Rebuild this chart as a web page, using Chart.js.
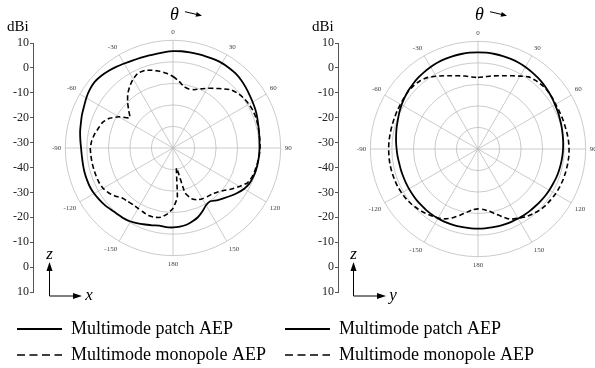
<!DOCTYPE html>
<html>
<head>
<meta charset="utf-8">
<script src="https://cdn.jsdelivr.net/npm/chart.js@4.4.0/dist/chart.umd.min.js"></script>
<style>
  html, body { margin: 0; padding: 0; background: #fff; overflow: hidden; }
  #wrap { position: relative; width: 595px; height: 368px; }
  canvas { position: absolute; }
</style>
</head>
<body>
<div id="wrap">
  <canvas id="axisLeft" width="297" height="374" style="left:0;top:0"></canvas>
  <canvas id="axisRight" width="327" height="374" style="left:268px;top:0"></canvas>
  <canvas id="polarLeft" width="242" height="242" style="left:51px;top:28px"></canvas>
  <canvas id="polarRight" width="242" height="242" style="left:356px;top:29px"></canvas>
</div>
<script>
// theta in degrees, clockwise from the top (0..355)
const angles = [
  0, 5, 10, 15, 20, 25, 30, 35, 40, 45, 50, 55,
  60, 65, 70, 75, 80, 85, 90, 95, 100, 105, 110, 115,
  120, 125, 130, 135, 140, 145, 150, 155, 160, 165, 170, 175,
  180, 185, 190, 195, 200, 205, 210, 215, 220, 225, 230, 235,
  240, 245, 250, 255, 260, 265, 270, 275, 280, 285, 290, 295,
  300, 305, 310, 315, 320, 325, 330, 335, 340, 345, 350, 355
];

// labels of the dBi axis at the left, top to bottom
const dbTicks = [10, 0, -10, -20, -30, -40, -30, -20, -10, 0, 10];

const seriesNames = ['Multimode patch AEP', 'Multimode monopole AEP'];

// xz-plane (dBi)
const xzPatch = [
  5.0, 5.1, 5.1, 5.1, 5.2, 5.4, 5.5, 5.4, 5.2, 4.7, 4.0, 3.3,
  2.7, 2.2, 1.6, 1.0, 0.6, 0.3, 0.2, 0.1, 0.0, -0.1, -0.4, -0.9,
  -2.0, -3.6, -5.3, -6.9, -8.3, -9.8, -9.3, -7.6, -5.9, -4.8, -3.8, -3.3,
  -3.1, -3.1, -3.4, -2.8, -2.2, -1.4, -0.6, -0.1, 0.1, 0.6, 1.3, 1.8,
  2.3, 2.6, 2.6, 2.6, 2.5, 2.5, 2.7, 3.2, 3.8, 4.3, 5.0, 5.6,
  6.5, 7.2, 7.6, 7.3, 6.7, 6.0, 5.3, 4.8, 4.5, 4.4, 4.4, 4.7
];
const xzMonopole = [
  -6.8, -8.8, -11.0, -11.6, -11.2, -9.7, -8.0, -6.2, -4.1, -1.8, -0.6, 0.2,
  0.7, 1.0, 1.0, 0.8, 0.6, 0.5, 0.4, 0.2, -0.2, -0.5, -0.9, -1.8,
  -4.3, -6.8, -9.3, -11.0, -12.0, -12.4, -12.8, -13.4, -15.0, -18.5, -30.5, -17.0,
  -12.0, -9.2, -7.3, -6.7, -6.6, -7.2, -7.6, -7.8, -7.5, -7.0, -5.2, -3.6,
  -2.5, -2.1, -2.0, -1.9, -1.8, -1.7, -1.6, -2.1, -3.0, -4.2, -5.2, -7.4,
  -11.0, -15.5, -13.2, -10.2, -7.3, -5.0, -3.0, -1.6, -1.7, -2.6, -3.8, -5.2
];

// yz-plane (dBi)
const yzPatch = [
  4.9, 4.9, 4.8, 4.7, 4.5, 4.3, 4.0, 3.6, 3.2, 2.8, 2.3, 1.8,
  1.3, 0.9, 0.5, 0.2, -0.1, -0.3, -0.5, -0.7, -0.9, -1.1, -1.3, -1.6,
  -1.8, -2.0, -2.2, -2.4, -2.5, -2.6, -2.7, -2.8, -2.9, -2.9, -3.0, -3.0,
  -3.0, -3.0, -3.0, -2.9, -2.9, -2.8, -2.8, -2.8, -2.8, -2.9, -2.9, -3.0,
  -3.0, -3.0, -3.0, -2.9, -2.8, -2.5, -2.2, -1.8, -1.4, -0.9, -0.4, 0.3,
  1.0, 1.6, 2.2, 2.7, 3.2, 3.6, 4.0, 4.3, 4.5, 4.7, 4.8, 4.9
];
const yzMonopole = [
  -6.8, -6.4, -5.6, -4.8, -3.8, -2.5, -0.9, 0.9, 1.6, 2.0, 2.1, 1.9,
  1.6, 1.6, 1.7, 1.8, 2.0, 2.2, 2.3, 2.3, 2.2, 2.1, 2.0, 1.8,
  1.6, 1.2, 0.9, 0.3, -0.6, -1.5, -2.9, -4.0, -6.5, -8.8, -10.7, -11.8,
  -12.2, -11.7, -10.2, -8.2, -6.0, -4.2, -3.0, -2.2, -1.3, -0.6, 0.1, 0.6,
  0.9, 1.2, 1.3, 1.4, 1.5, 1.5, 1.5, 1.5, 1.4, 1.4, 1.4, 1.5,
  1.6, 1.8, 2.0, 1.9, 1.5, 0.6, -1.0, -2.5, -3.8, -4.8, -5.6, -6.4
];

const serif = 'Liberation Serif';

// only every 30 degrees gets a label, shown as -150..180
function angleLabel(a) {
  if (a % 30 !== 0) return '';
  return String(a > 180 ? a - 360 : a);
}

function makePolar(id, patch, monopole) {
  return new Chart(document.getElementById(id), {
    type: 'radar',
    data: {
      labels: angles,
      datasets: [
        { label: seriesNames[0], data: patch, borderColor: '#000', borderWidth: 1.8, fill: false, backgroundColor: 'transparent' },
        { label: seriesNames[1], data: monopole, borderColor: '#000', borderWidth: 1.6, borderDash: [5, 3], fill: false, backgroundColor: 'transparent' }
      ]
    },
    options: {
      responsive: false,
      animation: false,
      elements: { point: { radius: 0 }, line: { tension: 0.15 } },
      plugins: { legend: { display: false }, tooltip: { enabled: false } },
      scales: {
        r: {
          min: -40,
          max: 10,
          ticks: { display: false, stepSize: 10 },
          grid: { circular: true, color: '#b4b4b4', lineWidth: 0.7 },
          angleLines: { color: '#b4b4b4', lineWidth: (ctx) => (ctx.index % 6 === 0 ? 0.7 : 0) },
          pointLabels: { padding: 4, color: '#444', font: { family: serif, size: 7 }, callback: angleLabel }
        }
      }
    }
  });
}

function arrow(ctx, x1, y1, x2, y2, len, half) {
  const a = Math.atan2(y2 - y1, x2 - x1);
  ctx.beginPath();
  ctx.moveTo(x1, y1);
  ctx.lineTo(x2 - Math.cos(a) * len * 0.8, y2 - Math.sin(a) * len * 0.8);
  ctx.stroke();
  ctx.beginPath();
  ctx.moveTo(x2, y2);
  ctx.lineTo(x2 - Math.cos(a) * len - Math.sin(a) * half, y2 - Math.sin(a) * len + Math.cos(a) * half);
  ctx.lineTo(x2 - Math.cos(a) * len + Math.sin(a) * half, y2 - Math.sin(a) * len - Math.cos(a) * half);
  ctx.closePath();
  ctx.fill();
}

// dBi, theta arrow and the small coordinate axes
const decorations = {
  id: 'decorations',
  afterDraw(chart, args, o) {
    const ctx = chart.ctx;
    ctx.save();
    ctx.translate(-o.offsetX, 0);
    ctx.fillStyle = '#000';
    ctx.strokeStyle = '#000';
    ctx.lineWidth = 1;
    ctx.textBaseline = 'alphabetic';
    ctx.textAlign = 'left';

    ctx.font = '15px "' + serif + '"';
    ctx.fillText('dBi', o.dbiX, 31);

    ctx.font = 'italic 18px "' + serif + '"';
    ctx.fillText('\u03b8', o.thetaX, 20);
    arrow(ctx, o.thetaX + 15, 11.7, o.thetaX + 32, 15.7, 6, 2.5);

    const cx = o.cornerX, cy = 296;
    arrow(ctx, cx, cy, cx, 262, 9, 3);
    arrow(ctx, cx, cy, o.tipX, cy, 9, 3);
    ctx.font = 'italic 17px "' + serif + '"';
    ctx.textAlign = 'center';
    ctx.fillText('z', cx, 259);
    ctx.fillText(o.hLabel, o.tipX + 7, 300);
    ctx.restore();
  }
};

function makeAxis(id, polar, axisWidth, deco) {
  return new Chart(document.getElementById(id), {
    type: 'scatter',
    data: { datasets: [] },
    options: {
      responsive: false,
      animation: false,
      layout: { padding: { left: 9, top: 43, right: 0, bottom: 0 } },
      scales: {
        x: {
          type: 'linear', min: 0, max: 1,
          ticks: { display: false },
          grid: { display: false },
          border: { display: false },
          afterFit: (s) => { s.height = 20; }
        },
        y: {
          type: 'linear', position: 'left', min: 0, max: 10,
          ticks: { stepSize: 1, padding: 1, color: '#222', font: { family: serif, size: 12 }, callback: (v) => dbTicks[v] },
          grid: { drawOnChartArea: false, tickLength: 3, color: '#555' },
          border: { color: '#555' },
          afterFit: (s) => { s.width = axisWidth; }
        }
      },
      plugins: {
        tooltip: { enabled: false },
        legend: {
          position: 'bottom',
          align: 'start',
          labels: {
            usePointStyle: true,
            pointStyleWidth: 45,
            padding: 8,
            color: '#000',
            font: { family: serif, size: 18 },
            generateLabels: () => polar.data.datasets.map((ds, i) => ({
              text: ds.label,
              strokeStyle: ds.borderColor,
              fillStyle: 'transparent',
              lineWidth: ds.borderWidth,
              lineDash: ds.borderDash ? [8, 4.5] : [],
              pointStyle: 'line',
              fontColor: '#000',
              datasetIndex: i
            }))
          }
        },
        decorations: deco
      }
    },
    plugins: [decorations]
  });
}

const polarLeft = makePolar('polarLeft', xzPatch, xzMonopole);
const polarRight = makePolar('polarRight', yzPatch, yzMonopole);

makeAxis('axisLeft', polarLeft, 24, { offsetX: 0, dbiX: 7, thetaX: 170, cornerX: 49.5, tipX: 82, hLabel: 'x' });
makeAxis('axisRight', polarRight, 61, { offsetX: 268, dbiX: 312, thetaX: 475, cornerX: 353.5, tipX: 386, hLabel: 'y' });
</script>
</body>
</html>
